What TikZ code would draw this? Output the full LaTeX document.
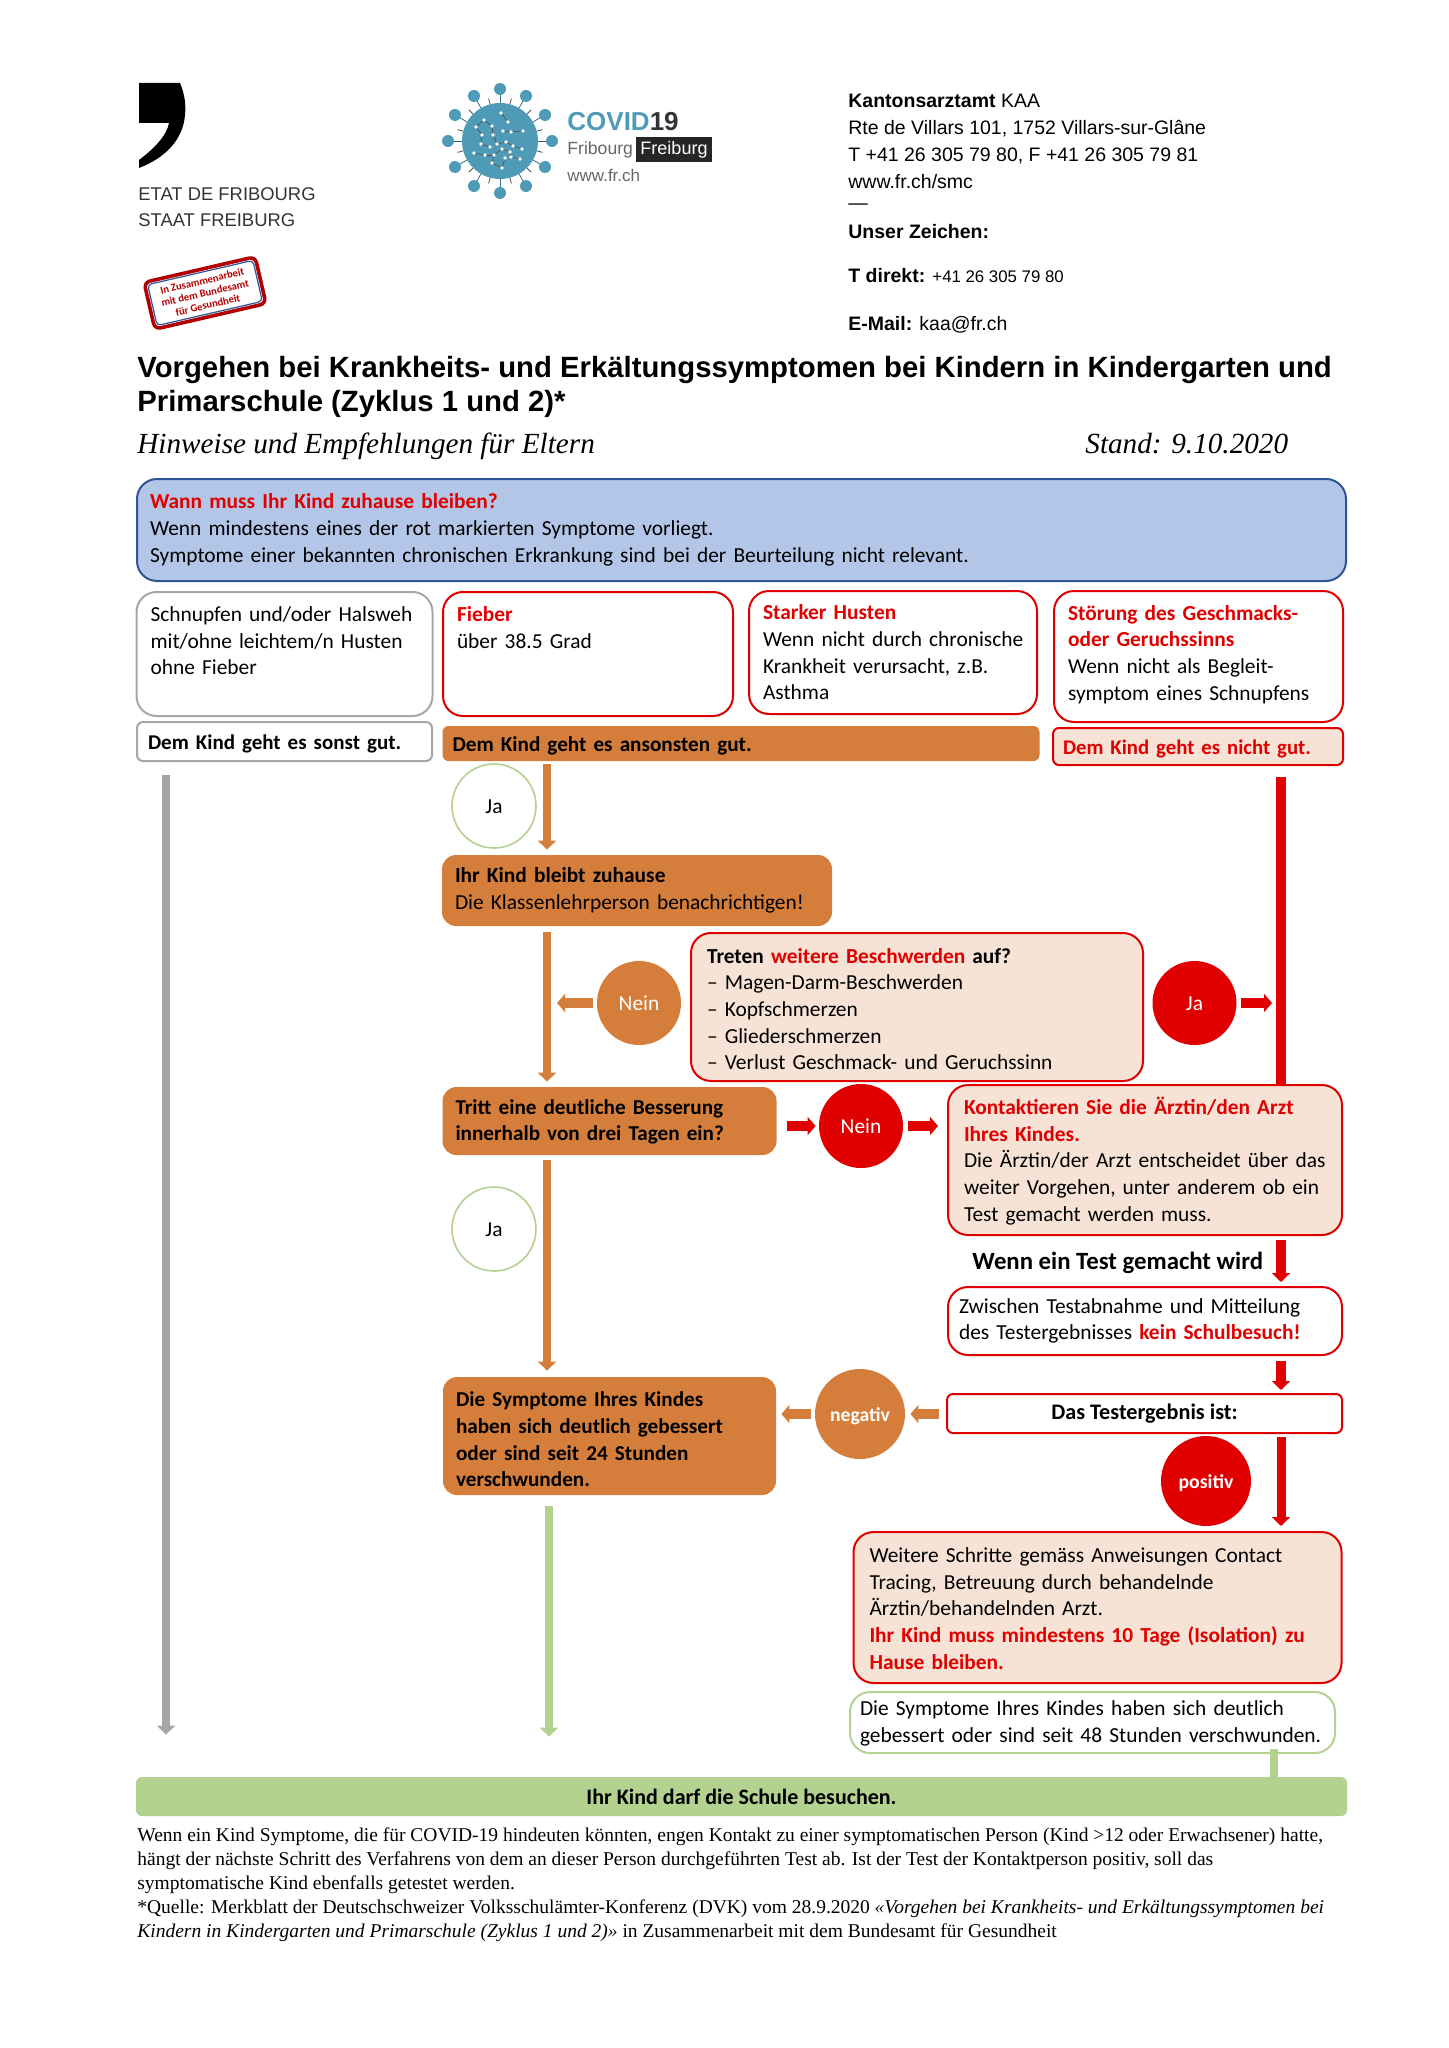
\documentclass[tikz,border=0pt]{standalone}
\usepackage{fontspec}
\setmainfont{Carlito}
\newfontfamily\headfont{Liberation Sans}
\newfontfamily\notefont{Liberation Serif}
\usetikzlibrary{arrows.meta}
\definecolor{kaared}{HTML}{E00000}
\definecolor{kaaorange}{HTML}{D57E3B}
\definecolor{kaapeach}{HTML}{F6E3D6}
\definecolor{kaablue}{HTML}{B4C6E7}
\definecolor{kaaborder}{HTML}{2F5597}
\definecolor{kaagreen}{HTML}{B3D18F}
\definecolor{kaagrey}{HTML}{A6A6A6}
\definecolor{kaateal}{HTML}{4F9BB7}
\newcommand{\redb}[1]{\textcolor{kaared}{\textbf{#1}}}
\hyphenpenalty=10000
\exhyphenpenalty=10000
\begin{document}
\begin{tikzpicture}[x=0.5pt,y=-0.5pt,
    every node/.style={font=\fontsize{10.7}{13.35}\selectfont, align=left, inner ysep=0pt, inner xsep=6pt},
    boldtext/.style={font=\bfseries\fontsize{10.6}{13.35}\selectfont},
    plainbox/.style={draw, rounded corners=10pt, line width=1pt},
    greybox/.style={plainbox, draw=kaagrey, fill=white},
    redbox/.style={plainbox, draw=kaared, fill=white},
    peachbox/.style={plainbox, draw=kaared, fill=kaapeach},
    orangebox/.style={rounded corners=7pt, fill=kaaorange},
    greenbox/.style={plainbox, draw=kaagreen, fill=white},
    slimbox/.style={rounded corners=3pt, text height=7.6pt, text depth=0pt, boldtext},
    yescircle/.style={circle, draw=kaagreen, line width=0.8pt, fill=white, minimum size=42pt, inner sep=0pt, align=center, text height=7.6pt, text depth=0pt},
    orangecircle/.style={circle, fill=kaaorange, text=white, minimum size=42pt, inner sep=0pt, align=center, text height=7.6pt, text depth=0pt},
    redcircle/.style={circle, fill=kaared, text=white, minimum size=42pt, inner sep=0pt, align=center, text height=7.6pt, text depth=0pt},
    headline/.style={anchor=west, inner sep=0pt, font=\headfont\fontsize{9.74}{13.5}\selectfont},
    logotext/.style={anchor=west, inner sep=0pt, font=\headfont\fontsize{9.2}{13}\selectfont, text=black!80},
    trunk/.style={line width=4pt, -{Triangle[length=4.5pt,width=9pt]}},
    stubby/.style={line width=5pt, -{Triangle[length=4pt,width=9pt]}}]
    \useasboundingbox (0,0) rectangle (1448,2048);

    \fill (139,83) -- (180,83) .. controls (185,95) and (186,105) .. (185,115) .. controls (183,140) and (165,158) .. (139,168) -- (139,160) .. controls (155,148) and (167,135) .. (169,123) -- (139,123) -- cycle;
    \node[logotext] (etat) at (138,194) {ETAT DE FRIBOURG};
    \node[logotext] (staat) at (138,220) {STAAT FREIBURG};
    \node[draw=red!70!black, line width=1.8pt, rounded corners=3pt, rotate=13, minimum width=57pt, minimum height=24pt] (stamp) at (205,293) {};
    \node[draw=kaaborder, line width=0.6pt, rounded corners=2pt, rotate=13, minimum width=54pt, minimum height=21pt, inner sep=0pt, align=center, text=red!70!black, font=\bfseries\fontsize{5.3}{6.2}\selectfont] (stamptext) at (205,293) {In Zusammenarbeit\\mit dem Bundesamt\\für Gesundheit};

    \foreach \ang in {0,30,...,330} {
        \draw[kaateal!70!black, line width=0.4pt] (500,141) ++(\ang:38) -- ++(\ang:9);
        \draw[black!70, line width=0.4pt] (500,141) ++(\ang+15:38) -- ++(\ang+15:6);
        \fill[kaateal] (500,141) ++(\ang:52) circle (6);
    }
    \fill[kaateal] (500,141) circle (38);
    \foreach \xa/\ya/\xb/\yb in {501/113/508/122,484/120/476/127,476/127/482/135,484/120/492/126,492/126/493/135,503/131/511/132,511/132/523/131,482/135/481/144,493/135/497/144,481/144/490/147,497/144/506/142,506/142/513/146,513/146/522/149,474/153/485/155,485/155/494/155,494/155/502/149,502/149/510/152,510/152/511/157,511/157/520/159,494/155/492/163,492/163/502/168,505/158/502/168} {
        \draw[black!70, line width=0.3pt] (\xa,\ya) -- (\xb,\yb);
    }
    \foreach \dotx/\doty in {501/113,508/122,484/120,476/127,492/126,503/131,482/135,493/135,511/132,523/131,481/144,490/147,497/144,506/142,513/146,522/149,474/153,485/155,494/155,502/149,510/152,511/157,520/159,505/158,492/163,502/168} {
        \fill[white] (\dotx,\doty) circle (1.8);
    }
    \node[anchor=west, inner sep=0pt, font=\headfont\bfseries\fontsize{13}{16}\selectfont] (covid) at (567,122) {\textcolor{kaateal}{COVID}\textcolor{black!80}{19}};
    \node[anchor=west, inner sep=0pt, font=\headfont\fontsize{8.8}{11}\selectfont, text=black!60] (fribourg) at (567,150) {Fribourg};
    \node[fill=black!85, text=white, minimum width=38pt, minimum height=12.5pt, inner sep=0pt, align=center, font=\headfont\fontsize{9}{11}\selectfont] (freiburg) at (674,149.5) {Freiburg};
    \node[anchor=west, inner sep=0pt, font=\headfont\fontsize{8.5}{11}\selectfont, text=black!60] (wwwfr) at (567,175) {www.fr.ch};

    \node[headline] (addr) at (848,141) {\textbf{Kantonsarztamt} KAA\\Rte de Villars 101, 1752 Villars-sur-Glâne\\T +41 26 305 79 80, F +41 26 305 79 81\\www.fr.ch/smc};
    \node[headline] (addrdash) at (848,207) {—};
    \node[headline] (zeichen) at (848,232) {\textbf{Unser Zeichen:}};
    \node[headline] (direkt) at (848,276) {\textbf{T direkt:} {\fontsize{8.4}{10}\selectfont +41 26 305 79 80}};
    \node[headline] (email) at (848,325) {\textbf{E-Mail:} kaa@fr.ch};

    \node[anchor=north west, inner sep=0pt, font=\headfont\bfseries\fontsize{14.65}{17}\selectfont] (title) at (137,356) {Vorgehen bei Krankheits- und Erkältungssymptomen bei Kindern in Kindergarten und\\Primarschule (Zyklus 1 und 2)*};
    \node[anchor=base west, inner sep=0pt, font=\notefont\itshape\fontsize{14.6}{17}\selectfont] (hinweis) at (137,453) {Hinweise und Empfehlungen für Eltern};
    \node[anchor=base west, inner sep=0pt, font=\notefont\itshape\fontsize{14.6}{17}\selectfont] (stand) at (1085,453) {Stand: 9.10.2020};

    \node[plainbox, draw=kaaborder, fill=kaablue, text width=591.5pt, inner xsep=6.5pt, minimum height=51pt] (wann) at (741.5,530) {\redb{Wann muss Ihr Kind zuhause bleiben?}\\Wenn mindestens eines der rot markierten Symptome vorliegt.\\Symptome einer bekannten chronischen Erkrankung sind bei der Beurteilung nicht relevant.};

    \node[greybox, text width=134pt, inner xsep=7pt, minimum height=62pt] (schnupfen) at (284.5,654) {Schnupfen und/oder Halsweh\\mit/ohne leichtem/n Husten\\ohne Fieber\\\mbox{}};
    \node[redbox, text width=131pt, inner xsep=7pt, minimum height=62pt] (fieber) at (588,654) {\redb{Fieber}\\über 38.5 Grad\\\mbox{}\\\mbox{}};
    \node[redbox, text width=130pt, inner xsep=7pt, minimum height=61.5pt] (husten) at (893,652.5) {\redb{Starker Husten}\\\mbox{Wenn nicht durch chronische}\\Krankheit verursacht, z.B.\\Asthma};
    \node[redbox, text width=130.5pt, inner xsep=7pt, minimum height=65.5pt] (stoerung) at (1198.5,656.5) {\redb{Störung des Geschmacks-}\\\redb{oder Geruchssinns}\\Wenn nicht als Begleit-\\symptom eines Schnupfens\rule[-3.8pt]{0pt}{3.8pt}};

    \node[greybox, slimbox, font=\bfseries\fontsize{10.5}{13.35}\selectfont, text width=136.5pt, inner xsep=5.5pt, minimum height=19.5pt] (sonstgut) at (284.5,741.5) {Dem Kind geht es sonst gut.};
    \node[orangebox, slimbox, text width=288.5pt, inner xsep=5pt, minimum height=17.5pt] (ansonsten) at (741,743.5) {Dem Kind geht es ansonsten gut.};
    \node[peachbox, slimbox, font=\bfseries\fontsize{10.4}{13.35}\selectfont, text width=135pt, inner xsep=5pt, minimum height=18.5pt, text=kaared] (nichtgut) at (1198,746.5) {Dem Kind geht es nicht gut.};

    \node[yescircle] (ja1) at (494,806) {Ja};
    \node[orangebox, text width=182pt, inner xsep=6.5pt, minimum height=35.5pt] (bleibt) at (637,890.5) {\textbf{Ihr Kind bleibt zuhause}\\Die Klassenlehrperson benachrichtigen!};
    \node[peachbox, text width=210pt, inner xsep=8pt, minimum height=74pt] (treten) at (917,1007) {\rule{0pt}{9.6pt}\textbf{Treten \redb{weitere Beschwerden} auf?}\\– Magen-Darm-Beschwerden\\– Kopfschmerzen\\– Gliederschmerzen\\– Verlust Geschmack- und Geruchssinn};
    \node[orangecircle] (nein1) at (639,1003) {Nein};
    \node[redcircle] (ja2) at (1194.5,1003) {Ja};
    \node[orangebox, boldtext, text width=154pt, inner xsep=6.5pt, minimum height=34pt] (tritt) at (609.5,1121) {\rule{0pt}{8.3pt}Tritt eine deutliche Besserung\\innerhalb von drei Tagen ein?};
    \node[redcircle] (nein2) at (861,1126) {Nein};
    \node[peachbox, text width=181pt, inner xsep=8pt, minimum height=75pt] (kontakt) at (1145,1160) {\rule{0pt}{9.6pt}\redb{Kontaktieren Sie die Ärztin/den Arzt}\\\redb{Ihres Kindes.}\\Die Ärztin/der Arzt entscheidet über das\\weiter Vorgehen, unter anderem ob ein\\Test gemacht werden muss.};
    \node[yescircle] (ja3) at (494,1229) {Ja};
    \node[anchor=west, inner sep=0pt, font=\bfseries\fontsize{12.4}{14}\selectfont] (wenntest) at (972,1263) {Wenn ein Test gemacht wird};
    \node[redbox, text width=186pt, inner xsep=5.5pt, minimum height=34pt] (zwischen) at (1145,1321) {Zwischen Testabnahme und Mitteilung\\des Testergebnisses \redb{kein Schulbesuch!}};
    \node[redbox, rounded corners=3pt, font=\bfseries\fontsize{11.1}{13.35}\selectfont, minimum width=197.5pt, minimum height=19.5pt, align=center] (ergebnis) at (1144.5,1413.5) {Das Testergebnis ist:};
    \node[orangecircle, font=\bfseries\fontsize{9.8}{12}\selectfont, minimum size=45pt] (negativ) at (860,1414) {negativ};
    \node[orangebox, boldtext, text width=153.5pt, inner xsep=6.5pt, minimum height=59pt] (symptome) at (609.5,1436) {\rule{0pt}{10.9pt}Die Symptome Ihres Kindes\\haben sich deutlich gebessert\\oder sind seit 24 Stunden\\verschwunden.};
    \node[redcircle, font=\bfseries\fontsize{9.9}{12}\selectfont, minimum size=45pt] (positiv) at (1206,1481) {positiv};
    \node[peachbox, text width=228pt, inner xsep=8pt, minimum height=75.5pt] (weitere) at (1097.5,1607.5) {\rule{0pt}{8.3pt}Weitere Schritte gemäss Anweisungen Contact\\Tracing, Betreuung durch behandelnde\\Ärztin/behandelnden Arzt.\\\redb{Ihr Kind muss mindestens 10 Tage (Isolation) zu}\\\redb{Hause bleiben.}};
    \node[greenbox, text width=232.5pt, inner xsep=5pt, minimum height=30.5pt] (symptome48) at (1092.5,1722.5) {\rule{0pt}{8.3pt}Die Symptome Ihres Kindes haben sich deutlich\\gebessert oder sind seit 48 Stunden verschwunden.};
    \node[fill=kaagreen, rounded corners=3pt, font=\bfseries\fontsize{11}{13.35}\selectfont, minimum width=605.5pt, minimum height=19.5pt, align=center] (schule) at (741.5,1796.5) {Ihr Kind darf die Schule besuchen.};

    \node[anchor=north west, inner sep=0pt, font=\notefont\fontsize{9.75}{12.1}\selectfont] (quelle) at (137,1827) {Wenn ein Kind Symptome, die für COVID-19 hindeuten könnten, engen Kontakt zu einer symptomatischen Person (Kind >12 oder Erwachsener) hatte,\\hängt der nächste Schritt des Verfahrens von dem an dieser Person durchgeführten Test ab. Ist der Test der Kontaktperson positiv, soll das\\symptomatische Kind ebenfalls getestet werden.\\*Quelle: Merkblatt der Deutschschweizer Volksschulämter-Konferenz (DVK) vom 28.9.2020 \textit{«Vorgehen bei Krankheits- und Erkältungssymptomen bei}\\\textit{Kindern in Kindergarten und Primarschule (Zyklus 1 und 2)»} in Zusammenarbeit mit dem Bundesamt für Gesundheit};

    \coordinate (greyx) at (166,0);
    \coordinate (orangex) at (547,0);
    \coordinate (leafx) at (549,0);
    \coordinate (redx) at (1281,0);
    \coordinate (linkx) at (1274,0);

    \draw[trunk, kaagrey, shorten <=6.5pt, shorten >=21pt] (greyx |- sonstgut.south) -- (greyx |- schule.north);
    \draw[trunk, kaaorange, shorten <=1.5pt, shorten >=2.5pt] (orangex |- ansonsten.south) -- (orangex |- bleibt.north);
    \draw[trunk, kaaorange, shorten <=3pt, shorten >=2.5pt] (orangex |- bleibt.south) -- (orangex |- tritt.north);
    \draw[trunk, kaaorange, shorten <=2.5pt, shorten >=3pt] (orangex |- tritt.south) -- (orangex |- symptome.north);
    \draw[trunk, kaagreen, shorten <=5.5pt, shorten >=20pt] (leafx |- symptome.south) -- (leafx |- schule.north);
    \draw[kaared, line width=5pt, shorten <=5.5pt] (redx |- nichtgut.south) -- (redx |- kontakt.north);
    \draw[trunk, line width=5pt, kaared, shorten <=2pt, shorten >=2pt] (redx |- kontakt.south) -- (redx |- zwischen.north);
    \draw[trunk, line width=5pt, kaared, shorten <=2.5pt, shorten >=1.5pt] (redx |- zwischen.south) -- (redx |- ergebnis.north);
    \draw[trunk, line width=4.5pt, kaared, shorten <=1.5pt, shorten >=2.5pt] (redx |- ergebnis.south) -- (redx |- weitere.north);
    \draw[kaagreen, line width=4pt] (linkx |- symptome48.south) ++(0,-5) -- (linkx |- schule.north);
    \draw[stubby, kaaorange, shorten <=2pt, shorten >=5pt] (nein1.west) -- (orangex |- nein1.west);
    \draw[stubby, kaared, shorten <=2pt, shorten >=4.5pt] (ja2.east) -- (redx |- ja2.east);
    \draw[stubby, kaared, shorten <=5pt, shorten >=1.5pt] (tritt.east |- nein2.west) -- (nein2.west);
    \draw[stubby, kaared, shorten <=2.5pt, shorten >=4.5pt] (nein2.east) -- (kontakt.west |- nein2.east);
    \draw[stubby, kaaorange, shorten <=3.5pt, shorten >=2.5pt] (ergebnis.west |- negativ.east) -- (negativ.east);
    \draw[stubby, kaaorange, shorten <=2pt, shorten >=2.5pt] (negativ.west) -- (symptome.east |- negativ.west);
\end{tikzpicture}
\end{document}
